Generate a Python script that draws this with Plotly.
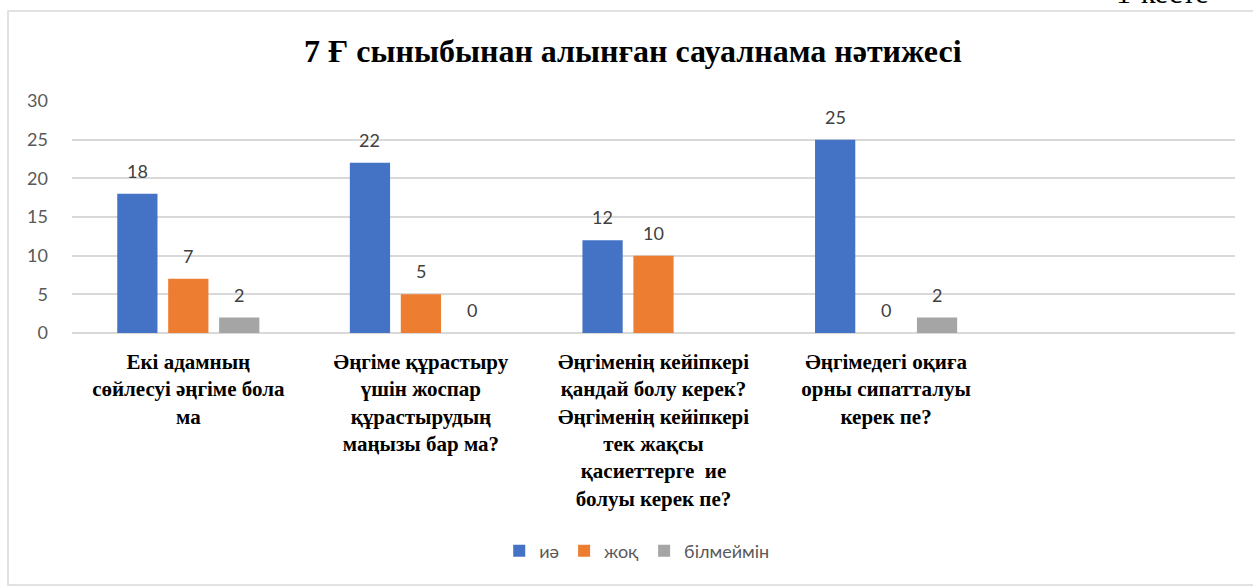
import plotly.graph_objects as go

# survey categories (5th slot is empty in the original chart)
categories = [
    "Екі адамның<br>сөйлесуі әңгіме бола<br>ма",
    "Әңгіме құрастыру<br>үшін жоспар<br>құрастырудың<br>маңызы бар ма?",
    "Әңгіменің кейіпкері<br>қандай болу керек?<br>Әңгіменің кейіпкері<br>тек жақсы<br>қасиеттерге  ие<br>болуы керек пе?",
    "Әңгімедегі оқиға<br>орны сипатталуы<br>керек пе?",
    " ",
]
series_names = ["иә", "жоқ", "білмеймін"]
yes_vals = [18, 22, 12, 25, None]
no_vals = [7, 5, 10, 0, None]
dunno_vals = [2, 0, None, 2, None]
colors = ["#4472C4", "#ED7D31", "#A5A5A5"]

W, H = 1253, 586
L, R, T, B = 72, 18, 101, 253
pw, ph = W - L - R, H - T - B
BARGAP = 0.343

fig = go.Figure()
all_vals = [yes_vals, no_vals, dunno_vals]
for name, vals, col in zip(series_names, all_vals, colors):
    fig.add_trace(go.Bar(x=categories, y=vals, name=name,
                         marker=dict(color=col, line=dict(width=0))))

# data labels above bars (offset per series within the group)
slot = pw / len(categories) * (1 - BARGAP) / 3
for i, vals in enumerate(all_vals):
    for cat, v in zip(categories, vals):
        if v is None:
            continue
        fig.add_annotation(x=cat, y=v, text=str(v), showarrow=False,
                           xshift=(i - 1) * slot, yshift=23, yanchor="middle",
                           font=dict(family="Lato, Open Sans, sans-serif", size=18, color="#404040"))

# outer chart frame (right side runs past the page edge)
fig.add_shape(type="rect", xref="paper", yref="paper",
              x0=(8 - L) / pw, x1=(1320 - L) / pw,
              y0=(T + ph - 585) / ph, y1=(T + ph - 11) / ph,
              line=dict(color="#d9d9d9", width=1.5), fillcolor="rgba(0,0,0,0)", layer="below")

# caption of the page, cut off at the top edge
fig.add_annotation(xref="paper", yref="paper", x=(1162 - L) / pw, y=(T + ph - 11) / ph,
                   xanchor="center", yanchor="bottom", text="1-кесте", showarrow=False,
                   font=dict(family="Liberation Serif", size=30, color="#000000"))

fig.update_layout(
    width=W, height=H,
    margin=dict(l=L, r=R, t=T, b=B),
    paper_bgcolor="white", plot_bgcolor="white",
    barmode="group", bargap=BARGAP, bargroupgap=0.21,
    title=dict(text="<b>7 Ғ сыныбынан алынған сауалнама нәтижесі</b>",
               x=0.505, xanchor="center", y=1 - 51 / H, yanchor="middle",
               font=dict(family="Liberation Serif", size=32, color="#000000")),
    xaxis=dict(type="category", showgrid=False, zeroline=False, showline=False,
               ticks="", tickangle=0, ticklabelstandoff=14,
               tickfont=dict(family="Liberation Serif", size=21, color="#000000", weight="bold")),
    yaxis=dict(range=[0, 30], dtick=5, showgrid=True, gridcolor="#d9d9d9", gridwidth=1.5,
               zeroline=True, zerolinecolor="#d9d9d9", zerolinewidth=1.5,
               ticks="", ticklabelstandoff=23,
               tickfont=dict(family="Lato, Open Sans, sans-serif", size=18, color="#595959")),
    showlegend=True,
    legend=dict(orientation="h", x=0.486, xanchor="center", y=(T + ph - 551) / ph, yanchor="middle",
                font=dict(family="Lato, Open Sans, sans-serif", size=18, color="#595959"),
                itemwidth=30, traceorder="normal"),
)

fig.write_html("out.html", config={"displayModeBar": False},
               post_script="document.body.style.margin='0';")
